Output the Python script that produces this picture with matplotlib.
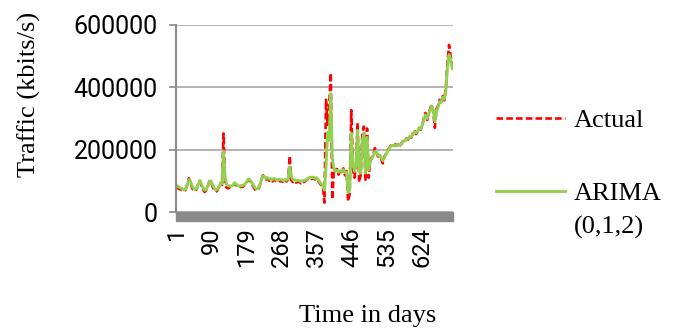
import matplotlib
matplotlib.use("Agg")
import matplotlib.pyplot as plt
import numpy as np
from matplotlib.patches import Rectangle

# one sample every 4th day (kbits/s)
days = np.arange(1, 702, 4)

actual = [
    80000, 76000, 74000, 72000, 68000, 66000, 72000, 88000, 108000, 96000,
    78000, 70000, 66000, 74000, 92000, 100000, 84000, 72000, 64000, 70000,
    82000, 98000, 100000, 82000, 72000, 64000, 68000, 80000, 92000, 86000, 252000,
    84000, 78000, 76000, 80000, 78000, 84000, 92000, 86000, 80000, 78000,
    82000, 80000, 84000, 90000, 98000, 104000,
    98000, 90000, 80000, 72000, 68000, 72000, 86000, 104000, 118000, 112000,
    104000, 108000, 100000, 104000, 98000, 106000, 100000, 96000, 102000, 98000,
    100000, 94000, 102000, 98000, 104000, 180000,
    102000, 96000, 100000, 94000, 98000, 96000, 92000, 98000, 96000, 100000,
    104000, 108000, 110000, 106000, 110000, 104000, 108000, 100000, 92000, 86000, 82000,
    30000, 360000, 280000, 340000, 446000, 40000, 140000, 132000, 138000, 120000,
    136000, 128000, 140000, 118000, 132000, 34000, 60000,
    327000, 140000, 110000, 150000, 285000, 96000, 120000, 250000, 274000, 100000,
    268000, 110000, 165000, 175000, 185000, 205000,
    190000, 178000, 182000, 170000, 156000, 178000, 186000, 196000, 205000, 212000,
    216000, 210000, 218000, 212000, 220000, 214000, 222000,
    230000, 226000, 236000, 232000, 244000, 238000, 252000, 262000, 250000, 258000,
    270000, 264000, 280000, 300000, 318000, 292000, 318000, 330000, 345000, 320000,
    270000, 330000, 340000, 360000, 352000, 372000, 358000, 400000, 480000, 536000,
    500000, 470000,
]

arima = [
    86000, 82000, 79000, 77000, 74000, 71000, 74000, 86000, 104000, 100000,
    84000, 76000, 72000, 76000, 90000, 100000, 90000, 78000, 70000, 72000,
    82000, 96000, 100000, 88000, 78000, 70000, 72000, 80000, 90000, 90000, 195000,
    110000, 88000, 84000, 84000, 83000, 86000, 94000, 90000, 85000, 83000,
    85000, 84000, 87000, 92000, 100000, 106000,
    102000, 94000, 86000, 78000, 74000, 76000, 86000, 102000, 116000, 114000,
    108000, 110000, 106000, 107000, 104000, 108000, 105000, 102000, 105000, 103000,
    104000, 100000, 104000, 102000, 106000, 145000,
    115000, 104000, 104000, 100000, 102000, 100000, 98000, 101000, 100000, 103000,
    106000, 110000, 112000, 110000, 112000, 108000, 110000, 104000, 96000, 90000, 86000,
    70000, 150000, 256000, 230000, 380000, 170000, 140000, 130000, 134000, 128000,
    132000, 130000, 136000, 126000, 128000, 62000, 70000,
    253000, 160000, 130000, 150000, 262000, 130000, 125000, 230000, 252000, 125000,
    240000, 135000, 160000, 172000, 182000, 195000,
    192000, 182000, 182000, 175000, 165000, 175000, 184000, 194000, 203000, 210000,
    214000, 212000, 216000, 213000, 218000, 215000, 220000,
    228000, 228000, 234000, 234000, 242000, 240000, 250000, 258000, 254000, 258000,
    268000, 266000, 278000, 296000, 312000, 300000, 314000, 326000, 340000, 326000,
    290000, 322000, 336000, 354000, 352000, 368000, 362000, 392000, 465000, 505000,
    490000, 460000,
]

x_ticks = [1, 90, 179, 268, 357, 446, 535, 624]
y_ticks = [0, 200000, 400000, 600000]

SANS = "Roboto"
SERIF = "Liberation Serif"


def main():
    fig = plt.figure(figsize=(6.75, 3.28), dpi=100)
    ax = fig.add_axes([176 / 675, 1 - 212 / 328, 277 / 675, 187 / 328])

    ax.plot(days, actual, color="#FF0000", lw=1.9, dashes=(2.5, 1.2), label="Actual")
    ax.plot(days, arima, color="#92D050", lw=2.1, label="ARIMA")

    ax.set_xlim(0.5, 703)
    ax.set_ylim(0, 600000)
    ax.set_yticks(y_ticks)
    ax.set_yticklabels([str(v) for v in y_ticks], fontfamily=SANS, fontsize=18)
    ax.set_xticks(x_ticks)
    ax.set_xticklabels([str(v) for v in x_ticks], fontfamily=SANS, fontsize=17, rotation=90)
    ax.tick_params(axis="y", length=5, width=1.2, color="#898989", pad=8)
    ax.tick_params(axis="x", length=0, pad=11)

    ax.grid(axis="y", color="#A6A6A6", lw=1.2)
    ax.set_axisbelow(True)
    for side in ("top", "right", "bottom"):
        ax.spines[side].set_visible(False)
    ax.spines["left"].set_color("#898989")
    ax.spines["left"].set_linewidth(1.5)

    # thick grey floor under the plot area
    ax.add_patch(Rectangle((0, -9 / 187), 1, 9 / 187, transform=ax.transAxes,
                           color="#898989", clip_on=False, zorder=5))

    fig.text(29 / 675, 1 - 94 / 328, "Traffic (kbits/s)", rotation=90,
             ha="center", va="center", fontfamily=SERIF, fontsize=19)
    fig.text(368 / 675, 1 - 316 / 328, "Time in days",
             ha="center", va="center", fontfamily=SERIF, fontsize=19)

    leg = ax.legend(loc="upper left", bbox_to_anchor=(496 / 675, 1 - 109 / 328),
                    bbox_transform=fig.transFigure, frameon=False, borderpad=0,
                    borderaxespad=0, handlelength=2.6, handletextpad=0.35,
                    labelspacing=1.85, prop={"family": SERIF, "size": 19})

    fig.canvas.draw()
    txt = leg.get_texts()[1]
    bb = txt.get_window_extent().transformed(fig.transFigure.inverted())
    fig.text(bb.x0, bb.y0 - 0.033, "(0,1,2)", ha="left", va="top",
             fontfamily=SERIF, fontsize=19)

    fig.savefig("out.png", dpi=100)
    plt.close(fig)


if __name__ == "__main__":
    main()
